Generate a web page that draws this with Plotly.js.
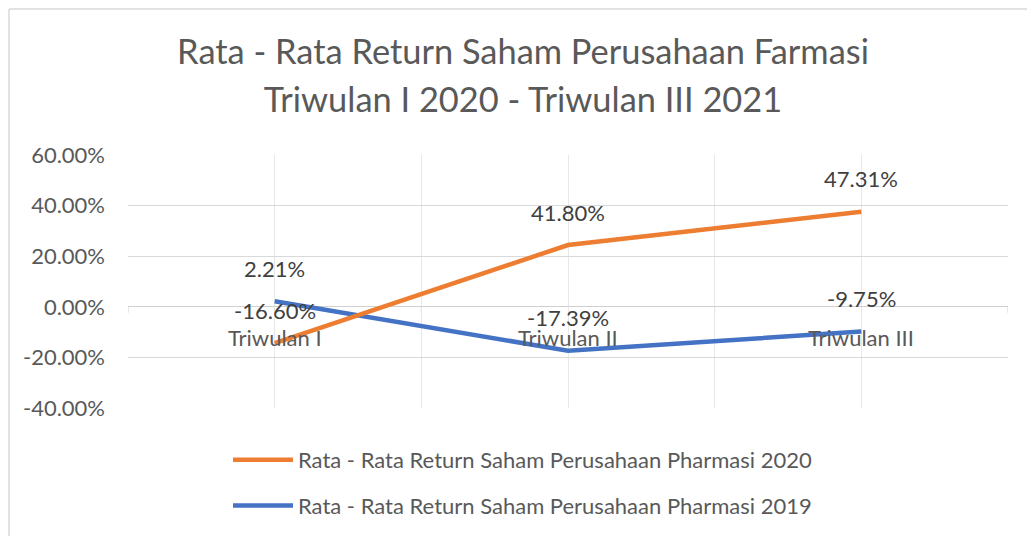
<!DOCTYPE html>
<html><head><meta charset="utf-8">
<script src="https://cdn.plot.ly/plotly-3.0.1.min.js"></script>
<style>html,body{margin:0;padding:0;background:#fff}#chart{width:1027px;height:536px}</style>
</head><body><div id="chart"></div>
<script>
// ---- data ----
const categories = ['Triwulan I', 'Triwulan II', 'Triwulan III'];
const series2019 = [2.21, -17.39, -9.75];
const series2020 = [-16.60, 41.80, 47.31];
const name2019 = 'Rata - Rata Return Saham Perusahaan Pharmasi 2019';
const name2020 = 'Rata - Rata Return Saham Perusahaan Pharmasi 2020';
const yTickVals = [-40, -20, 0, 20, 40, 60];
const yTickText = ['-40.00%', '-20.00%', '0.00%', '20.00%', '40.00%', '60.00%'];
const titleLines = ['Rata - Rata Return Saham Perusahaan Farmasi', 'Triwulan I 2020 - Triwulan III 2021'];

// ---- build ----
const FONT = 'Lato, "Open Sans", sans-serif';
const W = 1027, H = 536;
const M = {l: 128, r: 19, t: 155, b: 128, autoexpand: false};
const PW = W - M.l - M.r, PH = H - M.t - M.b;
const xIdx = categories.map((c, i) => i);
const boundaries = [-0.5].concat(xIdx.map(i => i + 0.5));
const xGrid = [];
boundaries.forEach((b, k) => { xGrid.push(b); if (k < xIdx.length) xGrid.push(xIdx[k]); });
const stackedTop = series2020.map((v, i) => v + series2019[i]);
const fmt = v => v.toFixed(2) + '%';

const traces = [
  {x: xIdx, y: series2019, name: name2019, stackgroup: 'one', fill: 'none', mode: 'lines',
   line: {color: '#4472C4', width: 4.5}, legendgroup: 'b', legendrank: 2},
  {x: xIdx, y: series2020, name: name2020, stackgroup: 'one', fill: 'none', mode: 'lines',
   line: {color: '#ED7D31', width: 4.5}, legendgroup: 'a', legendrank: 1}
];

const annotations = [];
xIdx.forEach(i => {
  annotations.push({x: i, y: series2019[i], text: fmt(series2019[i]), showarrow: false, yanchor: 'middle', yshift: 33,
    font: {family: FONT, size: 22, color: '#404040'}});
  annotations.push({x: i, y: stackedTop[i], text: fmt(series2020[i]), showarrow: false, yanchor: 'middle', yshift: 33,
    font: {family: FONT, size: 22, color: '#404040'}});
  annotations.push({x: i, y: 0, text: categories[i], showarrow: false, yanchor: 'middle', yshift: -31,
    font: {family: FONT, size: 22, color: '#595959'}});
});

const shapes = [
  {type: 'line', xref: 'paper', yref: 'paper', x0: (9 - M.l) / PW, x1: (W + 20 - M.l) / PW,
   y0: (H - M.b - 9) / PH, y1: (H - M.b - 9) / PH, line: {color: '#d9d9d9', width: 1.5}, layer: 'below'},
  {type: 'line', xref: 'paper', yref: 'paper', x0: (9 - M.l) / PW, x1: (9 - M.l) / PW,
   y0: (H - M.b - 9) / PH, y1: -(M.b + 20) / PH, line: {color: '#d9d9d9', width: 1.5}, layer: 'below'}
];
boundaries.forEach(b => shapes.push({type: 'line', xref: 'x', yref: 'y', ysizemode: 'pixel', yanchor: 0,
  x0: b, x1: b, y0: 0, y1: -6, line: {color: '#d0d0d0', width: 1}, layer: 'below'}));

const layout = {
  width: W, height: H, margin: M,
  paper_bgcolor: '#fff', plot_bgcolor: '#fff',
  font: {family: FONT, size: 22, color: '#595959'},
  title: {text: titleLines.map(t => '<span style="font-size:34.4px">' + t + '</span>').join('<br>'),
    font: {family: FONT, size: 37, color: '#595959'},
    xref: 'container', yref: 'container', x: 523 / W, xanchor: 'center', y: 1 - 64 / H, yanchor: 'middle'},
  xaxis: {type: 'linear', range: [-0.5, 2.5], tickvals: xGrid, showticklabels: false, ticks: '',
    showgrid: true, gridcolor: '#e8e8e8', gridwidth: 1, zeroline: false, showline: false, fixedrange: true},
  yaxis: {range: [-40, 60], tickvals: yTickVals, ticktext: yTickText, ticks: '',
    showgrid: true, gridcolor: '#d9d9d9', gridwidth: 1, zeroline: true, zerolinecolor: '#d0d0d0', zerolinewidth: 1,
    showline: false, ticklabelstandoff: 22, tickfont: {family: FONT, size: 22, color: '#595959'}, fixedrange: true},
  showlegend: true,
  legend: {x: (228 - M.l) / PW, xanchor: 'left', y: (H - M.b - 439) / PH, yanchor: 'top',
    traceorder: 'grouped', tracegroupgap: 14, itemwidth: 60, bgcolor: 'rgba(0,0,0,0)',
    font: {family: FONT, size: 22, color: '#595959'}},
  annotations: annotations,
  shapes: shapes,
  hovermode: false
};

Plotly.newPlot('chart', traces, layout, {staticPlot: true, displayModeBar: false});
</script></body></html>
